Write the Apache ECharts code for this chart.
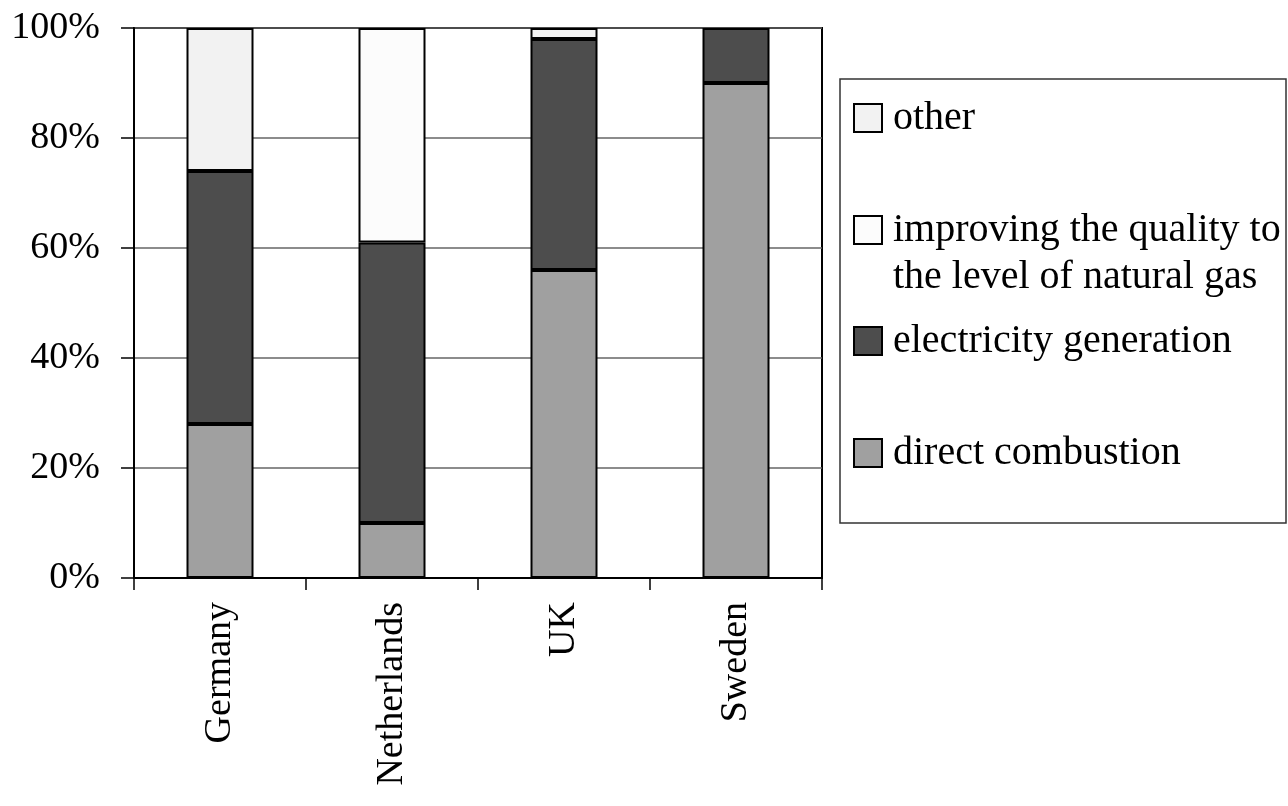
<!DOCTYPE html>
<html>
<head>
<meta charset="utf-8">
<script src="https://cdn.jsdelivr.net/npm/echarts@6/dist/echarts.min.js"></script>
<style>
html,body{margin:0;padding:0;background:#fff;}
#chart{width:1288px;height:806px;}
</style>
</head>
<body>
<div id="chart"></div>
<script>
const categories = ['Germany', 'Netherlands', 'UK', 'Sweden'];
const directCombustion = [28, 10, 56, 90];
const electricityGeneration = [46, 51, 42, 10];
const improvingQuality = [0, 39, 0, 0];
const other = [26, 0, 2, 0];
const yTicks = [0, 20, 40, 60, 80, 100];

const seriesNames = ['direct combustion', 'electricity generation', 'improving the quality to the level of natural gas', 'other'];
const seriesColors = ['#a0a0a0', '#4d4d4d', '#fcfcfc', '#f2f2f2'];
const seriesData = [directCombustion, electricityGeneration, improvingQuality, other];

const FONT = '"Liberation Serif", "Times New Roman", serif';
const LH = 47;

function mkLegend(name, iconTop, twoLine) {
  const offset = twoLine ? (LH * 1.5 - 14) : (LH / 2 - 14);
  return {
    show: true,
    orient: 'vertical',
    left: 853,
    top: iconTop - offset + 2,
    padding: 0,
    itemWidth: 28,
    itemHeight: 28,
    icon: 'rect',
    data: [name],
    formatter: function (n) {
      return n === seriesNames[2] ? '\u00a0\nimproving the quality to\nthe level of natural gas' : n;
    },
    textStyle: {
      fontFamily: FONT,
      fontSize: 40,
      color: '#000',
      lineHeight: LH,
      padding: [4, 0, 0, 6]
    },
    selectedMode: false
  };
}

const chart = echarts.init(document.getElementById('chart'), null, {renderer: 'canvas'});
chart.setOption({
  animation: false,
  backgroundColor: '#fff',
  grid: {
    left: 134, top: 28, width: 688, height: 550,
    show: true, borderColor: '#000', borderWidth: 2, backgroundColor: 'transparent'
  },
  graphic: [{
    type: 'rect',
    shape: {x: 840, y: 79, width: 446, height: 444},
    style: {fill: 'none', stroke: '#333', lineWidth: 1.5},
    silent: true
  }],
  legend: [
    mkLegend(seriesNames[3], 100, false),
    mkLegend(seriesNames[2], 212, true),
    mkLegend(seriesNames[1], 323, false),
    mkLegend(seriesNames[0], 435, false)
  ],
  xAxis: {
    type: 'category',
    data: categories,
    boundaryGap: true,
    axisLine: {show: true, lineStyle: {color: '#000', width: 2}},
    axisTick: {show: true, length: 12, interval: 0, lineStyle: {color: '#000', width: 1.5}},
    axisLabel: {rotate: 90, margin: 24, fontFamily: FONT, fontSize: 38, color: '#000', interval: 0}
  },
  yAxis: {
    type: 'value',
    min: yTicks[0], max: yTicks[yTicks.length - 1], interval: 20,
    axisLine: {show: true, lineStyle: {color: '#000', width: 2}},
    axisTick: {show: true, length: 13, lineStyle: {color: '#000', width: 1.5}},
    axisLabel: {formatter: '{value}%', margin: 34, fontFamily: FONT, fontSize: 38, color: '#000'},
    splitLine: {show: true, lineStyle: {color: '#666', width: 1.5}}
  },
  series: seriesNames.map((name, i) => ({
    name: name,
    type: 'bar',
    stack: 'total',
    barWidth: 67,
    data: seriesData[i].map(v => v === 0 ? null : v),
    itemStyle: {color: seriesColors[i], borderColor: '#000', borderWidth: 2},
    emphasis: {disabled: true}
  }))
});
</script>
</body>
</html>
